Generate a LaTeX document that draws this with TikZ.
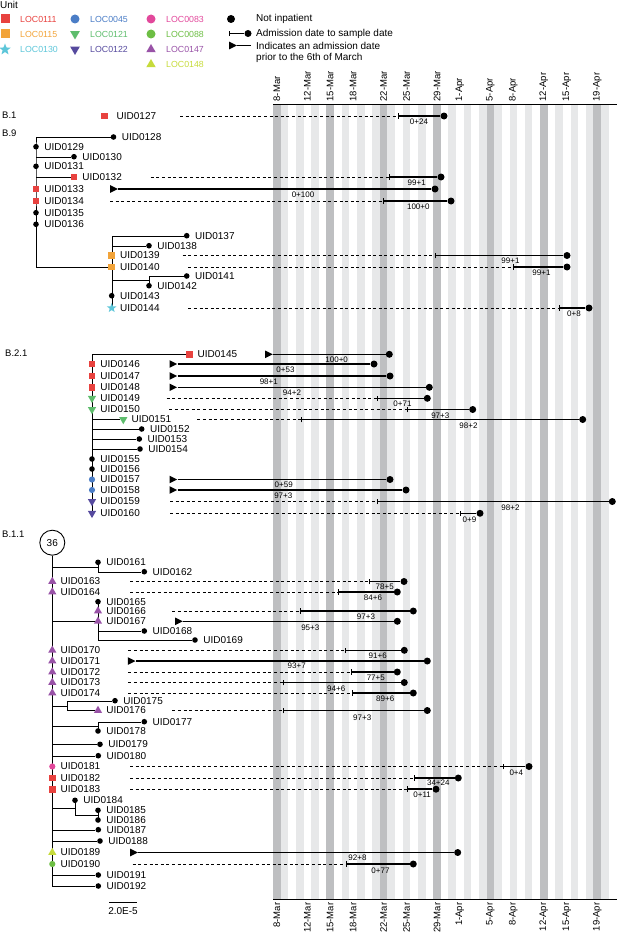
\documentclass[tikz,border=0pt]{standalone}
\usepackage{fontspec}
\setmainfont{Liberation Sans}
\usepackage{tikz}
\usetikzlibrary{arrows.meta,positioning,shapes.geometric}

\definecolor{locA}{HTML}{E8423F} % LOC0111
\definecolor{locB}{HTML}{F2A43A} % LOC0115
\definecolor{locC}{HTML}{5DC6D9} % LOC0130
\definecolor{locD}{HTML}{4B7DC6} % LOC0045
\definecolor{locE}{HTML}{5EBD6D} % LOC0121
\definecolor{locF}{HTML}{564A9E} % LOC0122
\definecolor{locG}{HTML}{E2489B} % LOC0083
\definecolor{locH}{HTML}{6DBE44} % LOC0088
\definecolor{locI}{HTML}{9953A7} % LOC0147
\definecolor{locJ}{HTML}{C6DB3B} % LOC0148
\definecolor{daydark}{HTML}{BEBFC1}
\definecolor{daylight}{HTML}{E7E8E9}

\pgfdeclarelayer{bg}
\pgfsetlayers{bg,main}

\begin{document}
\begin{tikzpicture}[x=1pt,y=-1pt,line width=0.8pt,node distance=8.2pt,
    every node/.style={inner sep=0pt,font=\fontsize{10}{12}\selectfont},
    uid/.style={anchor=west},
    leaf/.style={circle,fill=black,minimum size=5.6pt},
    sq/.style={rectangle,fill=#1,minimum size=6.6pt},
    ball/.style={circle,fill=#1,minimum size=6.2pt},
    up/.style={regular polygon,regular polygon sides=3,fill=#1,minimum size=9.5pt},
    dn/.style={up=#1,shape border rotate=180},
    starm/.style={star,star points=5,star point ratio=2.4,fill=#1,minimum size=10pt},
    smp/.style={circle,fill=black,minimum size=7pt},
    adm/.style={isosceles triangle,isosceles triangle stretches,fill=black,minimum width=7.6pt,minimum height=7.6pt,anchor=west},
    dsh/.style={line width=0.7pt,dash pattern=on 3pt off 2.6pt},
    bar/.style={line width=1.5pt},
    adb/.style={bar,arrows={Bar[width=5.5pt,line width=1pt]-}},
    num/.style={font=\fontsize{8}{9}\selectfont},
    day/.style={font=\fontsize{9.5}{10}\selectfont,rotate=90},
    clade/.style={anchor=west,font=\fontsize{9.5}{11}\selectfont},
    loc/.style={anchor=west,font=\fontsize{8.8}{10}\selectfont,text=#1}]
\useasboundingbox (0,0) rectangle (617,934);

% day stripes
\begin{pgfonlayer}{bg}
  \foreach \d in {1,3,...,43}
    \fill[daylight] ({273+7.63*\d},104.5) rectangle ({273+7.63*(\d+1)},899.5);
  \foreach \d in {0,7,...,42}
    \fill[daydark] ({273+7.63*\d},104.5) rectangle ({273+7.63*(\d+1)},899.5);
\end{pgfonlayer}
\coordinate (tl) at (273,104.5); \coordinate (tr) at (617,104.5);
\coordinate (bl) at (273,899.5); \coordinate (br) at (617,899.5);
\draw[line width=1pt] (tl) -- (tr);
\draw[line width=1pt] (bl) -- (br);
\foreach \d/\t in {0/8-Mar,4/12-Mar,7/15-Mar,10/18-Mar,14/22-Mar,17/25-Mar,21/29-Mar,24/1-Apr,28/5-Apr,31/8-Apr,35/12-Apr,38/15-Apr,42/19-Apr}{
  \node[day,anchor=west] (top\d) at ({276.8+7.63*\d},101.5) {\t};
  \node[day,anchor=east] (bot\d) at ({276.8+7.63*\d},902.5) {\t};
}

% legend
\node[anchor=west] (unit) at (0,5) {Unit};
\node[sq=locA,minimum size=9pt] (k111) at (5,19) {};    \node[loc=locA] (kt111) at (20,19) {LOC0111};
\node[sq=locB,minimum size=9pt] (k115) at (5,34) {};    \node[loc=locB] (kt115) at (20,34) {LOC0115};
\node[starm=locC,minimum size=12pt] (k130) at (5,49.5) {}; \node[loc=locC] (kt130) at (20,49.5) {LOC0130};
\node[ball=locD,minimum size=9pt] (k045) at (75,19) {};  \node[loc=locD] (kt045) at (90,19) {LOC0045};
\node[dn=locE,minimum size=11pt] (k121) at (75,34) {};   \node[loc=locE] (kt121) at (90,34) {LOC0121};
\node[dn=locF,minimum size=11pt] (k122) at (75,49.5) {}; \node[loc=locF] (kt122) at (90,49.5) {LOC0122};
\node[ball=locG,minimum size=9pt] (k083) at (151,19) {}; \node[loc=locG] (kt083) at (166,19) {LOC0083};
\node[ball=locH,minimum size=9pt] (k088) at (151,34) {}; \node[loc=locH] (kt088) at (166,34) {LOC0088};
\node[up=locI,minimum size=11pt] (k147) at (151,49.5) {}; \node[loc=locI] (kt147) at (166,49.5) {LOC0147};
\node[up=locJ,minimum size=11pt] (k148) at (151,64.5) {}; \node[loc=locJ] (kt148) at (166,64.5) {LOC0148};
\node[smp,minimum size=8pt] (kni) at (231,19) {};
\node[anchor=west] (ktni) at (256,19) {Not inpatient};
\coordinate (kad1) at (229,33.5); \node[smp] (kad2) at (248,33.5) {};
\draw[adb] (kad1) -- (kad2);
\node[anchor=west] (ktad) at (256,33.5) {Admission date to sample date};
\node[adm] (kpr1) at (229,45.5) {}; \coordinate (kpr2) at (251,45.5);
\draw[bar] (kpr1) -- (kpr2);
\node[anchor=west] (ktpr1) at (256,45.5) {Indicates an admission date};
\node[anchor=west] (ktpr2) at (256,57.5) {prior to the 6th of March};

% B.1
\node[clade] (b1) at (2,115) {B.1};
\node[sq=locA] (m127) at (104.5,116) {}; \node[uid,right=12pt of m127.center] (u127) {UID0127};
\coordinate (c127) at (180,116); \coordinate (a127) at (398,116); \node[smp] (s127) at (444,116) {}; \node[num] (n127) at (419,121.5) {0+24};

% B.9
\node[clade] (b9) at (2,133) {B.9};
\node[leaf] (m128) at (113.5,137) {};   \node[uid,right=of m128.center] (u128) {UID0128};
\node[leaf] (m129) at (36,146.7) {};    \node[uid,right=of m129.center] (u129) {UID0129};
\node[leaf] (m130) at (74,156.7) {};    \node[uid,right=of m130.center] (u130) {UID0130};
\node[leaf] (m131) at (36,166.3) {};    \node[uid,right=of m131.center] (u131) {UID0131};
\node[sq=locA] (m132) at (74,177) {};   \node[uid,right=of m132.center] (u132) {UID0132};
\coordinate (c132) at (150.7,177); \coordinate (a132) at (389,177); \node[smp] (s132) at (441,177) {}; \node[num] (n132) at (416.7,182.5) {99+1};
\node[sq=locA] (m133) at (36,189) {};   \node[uid,right=of m133.center] (u133) {UID0133};
\node[adm] (t133) at (110,189) {}; \node[smp] (s133) at (435,189) {}; \node[num] (n133) at (303,194.5) {0+100};
\node[sq=locA] (m134) at (36,201) {};   \node[uid,right=of m134.center] (u134) {UID0134};
\coordinate (c134) at (110,201); \coordinate (a134) at (383,201); \node[smp] (s134) at (451,201) {}; \node[num] (n134) at (418.3,206.5) {100+0};
\node[leaf] (m135) at (36,212.7) {};    \node[uid,right=of m135.center] (u135) {UID0135};
\node[leaf] (m136) at (36,224.3) {};    \node[uid,right=of m136.center] (u136) {UID0136};
\coordinate (j9) at (36,267);
\node[leaf] (m137) at (186.7,235.7) {}; \node[uid,right=of m137.center] (u137) {UID0137};
\node[leaf] (m138) at (149,245.7) {};   \node[uid,right=of m138.center] (u138) {UID0138};
\node[sq=locB] (m139) at (111.7,255.5) {}; \node[uid,right=of m139.center] (u139) {UID0139};
\coordinate (c139) at (182.7,255.5); \coordinate (a139) at (435,255.5); \node[smp] (s139) at (567,255.5) {}; \node[num] (n139) at (510.5,261) {99+1};
\node[sq=locB] (m140) at (111.7,267) {}; \node[uid,right=of m140.center] (u140) {UID0140};
\coordinate (c140) at (188.3,267); \coordinate (a140) at (513,267); \node[smp] (s140) at (567,267) {}; \node[num] (n140) at (541.5,272.5) {99+1};
\node[leaf] (m141) at (186.7,276) {};   \node[uid,right=of m141.center] (u141) {UID0141};
\node[leaf] (m142) at (149,285.7) {};   \node[uid,right=of m142.center] (u142) {UID0142};
\coordinate (j41) at (149,280.5);
\node[leaf] (m143) at (111.7,295.7) {}; \node[uid,right=of m143.center] (u143) {UID0143};
\node[starm=locC] (m144) at (111.7,308) {}; \node[uid,right=of m144.center] (u144) {UID0144};
\coordinate (c144) at (188.3,308); \coordinate (a144) at (559,308); \node[smp] (s144) at (589,308) {}; \node[num] (n144) at (574,313.5) {0+8};

% B.2.1
\node[clade] (b21) at (5,353.3) {B.2.1};
\node[sq=locA] (m145) at (189.3,354.3) {}; \node[uid,right=of m145.center] (u145) {UID0145};
\node[adm] (t145) at (265,354.3) {}; \node[smp] (s145) at (389.3,354.3) {}; \node[num] (n145) at (336.7,360) {100+0};
\node[sq=locA] (m146) at (92,364) {};   \node[uid,right=of m146.center] (u146) {UID0146};
\node[adm] (t146) at (169.3,364) {}; \node[smp] (s146) at (374,364) {}; \node[num] (n146) at (285.5,370) {0+53};
\node[sq=locA] (m147) at (92,376) {};   \node[uid,right=of m147.center] (u147) {UID0147};
\node[adm] (t147) at (169.3,376) {}; \node[smp] (s147) at (390,376) {}; \node[num] (n147) at (268.8,382) {98+1};
\node[sq=locA] (m148) at (92,387.3) {}; \node[uid,right=of m148.center] (u148) {UID0148};
\node[adm] (t148) at (169.3,387.3) {}; \node[smp] (s148) at (429.3,387.3) {}; \node[num] (n148) at (292,393) {94+2};
\node[dn=locE] (m149) at (92,398.3) {}; \node[uid,right=of m149.center] (u149) {UID0149};
\coordinate (c149) at (166.7,398.3); \coordinate (a149) at (376.7,398.3); \node[smp] (s149) at (427.3,398.3) {}; \node[num] (n149) at (402.5,404) {0+71};
\node[dn=locE] (m150) at (92,409.5) {}; \node[uid,right=of m150.center] (u150) {UID0150};
\coordinate (c150) at (169.3,409.5); \coordinate (a150) at (406.7,409.5); \node[smp] (s150) at (472.7,409.5) {}; \node[num] (n150) at (440.3,415.5) {97+3};
\node[dn=locE] (m151) at (123.3,419.5) {}; \node[uid,right=of m151.center] (u151) {UID0151};
\coordinate (c151) at (197.3,419.5); \coordinate (a151) at (300.7,419.5); \node[smp] (s151) at (582.7,419.5) {}; \node[num] (n151) at (468.5,426) {98+2};
\node[leaf] (m152) at (141.7,429) {};   \node[uid,right=of m152.center] (u152) {UID0152};
\node[leaf] (m153) at (139.3,439) {};   \node[uid,right=of m153.center] (u153) {UID0153};
\node[leaf] (m154) at (140,449) {};     \node[uid,right=of m154.center] (u154) {UID0154};
\node[leaf] (m155) at (92,459) {};      \node[uid,right=of m155.center] (u155) {UID0155};
\node[leaf] (m156) at (92,469) {};      \node[uid,right=of m156.center] (u156) {UID0156};
\node[ball=locD] (m157) at (92,479.5) {}; \node[uid,right=of m157.center] (u157) {UID0157};
\node[adm] (t157) at (169.3,479.5) {}; \node[smp] (s157) at (390,479.5) {}; \node[num] (n157) at (283.7,485) {0+59};
\node[ball=locD] (m158) at (92,490) {}; \node[uid,right=of m158.center] (u158) {UID0158};
\node[adm] (t158) at (169.3,490) {}; \node[smp] (s158) at (406,490) {}; \node[num] (n158) at (283.3,495.7) {97+3};
\node[dn=locF] (m159) at (92,501.5) {}; \node[uid,right=of m159.center] (u159) {UID0159};
\coordinate (c159) at (170,501.5); \coordinate (a159) at (376.7,501.5); \node[smp] (s159) at (612.3,501.5) {}; \node[num] (n159) at (510.5,507.3) {98+2};
\node[dn=locF] (m160) at (92,513.3) {}; \node[uid,right=of m160.center] (u160) {UID0160};
\coordinate (c160) at (170,513.3); \coordinate (a160) at (460,513.3); \node[smp] (s160) at (480,513.3) {}; \node[num] (n160) at (469.5,519.3) {0+9};

% B.1.1
\node[clade] (b11) at (2,534.3) {B.1.1};
\node[circle,draw,line width=0.9pt,minimum size=25pt] (c36) at (52.3,542.7) {36};
\coordinate (j61) at (98,566.7);
\node[leaf] (m161) at (98,562.3) {};    \node[uid,right=of m161.center] (u161) {UID0161};
\node[leaf] (m162) at (144.3,571.7) {}; \node[uid,right=of m162.center] (u162) {UID0162};
\node[up=locI] (m163) at (52.3,581.5) {}; \node[uid,right=of m163.center] (u163) {UID0163};
\coordinate (c163) at (130,581.5); \coordinate (a163) at (369,581.5); \node[smp] (s163) at (404,581.5) {}; \node[num] (n163) at (384.7,586.5) {78+5};
\node[up=locI] (m164) at (52.3,592) {}; \node[uid,right=of m164.center] (u164) {UID0164};
\coordinate (c164) at (130,592); \coordinate (a164) at (337.7,592); \node[smp] (s164) at (397.3,592) {}; \node[num] (n164) at (373,597.5) {84+6};
\node[leaf] (m165) at (98,601.7) {};    \node[uid,right=of m165.center] (u165) {UID0165};
\node[up=locI] (m166) at (98,611) {};   \node[uid,right=of m166.center] (u166) {UID0166};
\coordinate (c166) at (172.3,611); \coordinate (a166) at (300,611); \node[smp] (s166) at (413.3,611) {}; \node[num] (n166) at (366,616.3) {97+3};
\node[up=locI] (m167) at (98,621.3) {}; \node[uid,right=of m167.center] (u167) {UID0167};
\node[adm] (t167) at (175,621.3) {}; \node[smp] (s167) at (397.3,621.3) {}; \node[num] (n167) at (310.3,627.3) {95+3};
\node[leaf] (m168) at (144.3,631) {};   \node[uid,right=of m168.center] (u168) {UID0168};
\node[leaf] (m169) at (195,640) {};     \node[uid,right=of m169.center] (u169) {UID0169};
\node[up=locI] (m170) at (52.3,650.3) {}; \node[uid,right=of m170.center] (u170) {UID0170};
\coordinate (c170) at (128.3,650.3); \coordinate (a170) at (345,650.3); \node[smp] (s170) at (404.3,650.3) {}; \node[num] (n170) at (377.7,656) {91+6};
\node[up=locI] (m171) at (52.3,661) {}; \node[uid,right=of m171.center] (u171) {UID0171};
\node[adm] (t171) at (127.7,661) {}; \node[smp] (s171) at (427.3,661) {}; \node[num] (n171) at (296.7,666) {93+7};
\node[up=locI] (m172) at (52.3,672) {}; \node[uid,right=of m172.center] (u172) {UID0172};
\coordinate (c172) at (128.3,672); \coordinate (a172) at (351,672); \node[smp] (s172) at (397.3,672) {}; \node[num] (n172) at (375.8,677.3) {77+5};
\node[up=locI] (m173) at (52.3,682.5) {}; \node[uid,right=of m173.center] (u173) {UID0173};
\coordinate (c173) at (128.3,682.5); \coordinate (a173) at (282.7,682.5); \node[smp] (s173) at (404.3,682.5) {}; \node[num] (n173) at (336.2,688.3) {94+6};
\node[up=locI] (m174) at (52.3,693) {}; \node[uid,right=of m174.center] (u174) {UID0174};
\coordinate (c174) at (128.3,693); \coordinate (a174) at (352.3,693); \node[smp] (s174) at (413.3,693) {}; \node[num] (n174) at (385.2,699) {89+6};
\coordinate (j75) at (66.7,705.7);
\node[leaf] (m175) at (115,700.7) {};   \node[uid,right=of m175.center] (u175) {UID0175};
\node[up=locI] (m176) at (98,710.5) {}; \node[uid,right=of m176.center] (u176) {UID0176};
\coordinate (c176) at (172.3,710.5); \coordinate (a176) at (283.3,710.5); \node[smp] (s176) at (427.3,710.5) {}; \node[num] (n176) at (362.2,717.5) {97+3};
\coordinate (j77) at (98,726);
\node[leaf] (m177) at (144.3,721.7) {}; \node[uid,right=of m177.center] (u177) {UID0177};
\node[leaf] (m178) at (98,731) {};      \node[uid,right=of m178.center] (u178) {UID0178};
\node[leaf] (m179) at (100,744.3) {};   \node[uid,right=of m179.center] (u179) {UID0179};
\node[leaf] (m180) at (98.3,755.7) {};  \node[uid,right=of m180.center] (u180) {UID0180};
\node[ball=locG] (m181) at (52.3,766.5) {}; \node[uid,right=of m181.center] (u181) {UID0181};
\coordinate (c181) at (130,766.5); \coordinate (a181) at (503.3,766.5); \node[smp] (s181) at (529,766.5) {}; \node[num] (n181) at (516.3,772.5) {0+4};
\node[sq=locA] (m182) at (52.3,778) {}; \node[uid,right=of m182.center] (u182) {UID0182};
\coordinate (c182) at (130,778); \coordinate (a182) at (414.3,778); \node[smp] (s182) at (458.3,778) {}; \node[num] (n182) at (438.3,783) {34+24};
\node[sq=locA] (m183) at (52.3,789.2) {}; \node[uid,right=of m183.center] (u183) {UID0183};
\coordinate (c183) at (130,789.2); \coordinate (a183) at (407.3,789.2); \node[smp] (s183) at (436,789.2) {}; \node[num] (n183) at (422.2,795) {0+11};
\coordinate (j84) at (75,807.7); \coordinate (j85) at (98,815);
\node[leaf] (m184) at (75,800.3) {};    \node[uid,right=of m184.center] (u184) {UID0184};
\node[leaf] (m185) at (98,810.3) {};    \node[uid,right=of m185.center] (u185) {UID0185};
\node[leaf] (m186) at (98,820) {};      \node[uid,right=of m186.center] (u186) {UID0186};
\node[leaf] (m187) at (98.3,829.7) {};  \node[uid,right=of m187.center] (u187) {UID0187};
\node[leaf] (m188) at (100,841) {};     \node[uid,right=of m188.center] (u188) {UID0188};
\node[up=locJ] (m189) at (52.3,852.5) {}; \node[uid,right=of m189.center] (u189) {UID0189};
\node[adm] (t189) at (130,852.5) {}; \node[smp] (s189) at (457.7,852.5) {}; \node[num] (n189) at (357.5,858) {92+8};
\node[ball=locH] (m190) at (52.3,864) {}; \node[uid,right=of m190.center] (u190) {UID0190};
\coordinate (c190) at (132.7,864); \coordinate (a190) at (346,864); \node[smp] (s190) at (413.3,864) {}; \node[num] (n190) at (380.5,870.5) {0+77};
\node[leaf] (m191) at (98.3,875) {};    \node[uid,right=of m191.center] (u191) {UID0191};
\node[leaf] (m192) at (98.3,886) {};    \node[uid,right=of m192.center] (u192) {UID0192};

% scale bar
\coordinate (sb1) at (109.3,901.7); \coordinate (sb2) at (136.7,901.7);
\draw (sb1) -- (sb2);
\node (sbl) at (123,911.3) {2.0E-5};

% admission to sample
\foreach \k in {127,132,134,139,140,144,149,150,151,159,160,163,164,166,170,172,173,174,176,181,182,183,190}{
  \draw[dsh] (c\k) -- (a\k);
  \draw[adb] (a\k) -- (s\k);
}
\foreach \k in {133,145,146,147,148,157,158,167,171,189}
  \draw[bar] (t\k) -- (s\k);

% tree branches
\begin{pgfonlayer}{bg}
  \draw (m128) -| (m129.center) -- (j9) -- (m140.center);
  \draw (m130) -- (m130 -| j9);
  \draw (m132) -- (m132 -| j9);
  \draw (m137) -| (m144.center);
  \draw (m138) -- (m138 -| m144);
  \draw (m141) -| (m142.center);
  \draw (j41) -- (j41 -| m144);
  \draw (m145) -| (m160.center);
  \foreach \k in {151,152,153,154}
    \draw (m\k) -- (m\k -| m160);
  \draw (c36) -- (m192 -| c36) -- (m192);
  \draw (m161.center) |- (m162);
  \draw (j61 -| c36) -- (j61);
  \draw (m165.center) |- (m169);
  \draw (m167.center) -- (m167 -| c36);
  \draw (m168) -- (m168 -| m165);
  \draw (m175) -| (j75) |- (m176);
  \draw (j75) -- (j75 -| c36);
  \draw (m177) -| (m178.center);
  \draw (j77) -- (j77 -| c36);
  \foreach \k in {179,180,187,188,191}
    \draw (m\k) -- (m\k -| c36);
  \draw (m184.center) |- (j85);
  \draw (m185.center) -- (m186.center);
  \draw (j84) -- (j84 -| c36);
\end{pgfonlayer}
\end{tikzpicture}
\end{document}
